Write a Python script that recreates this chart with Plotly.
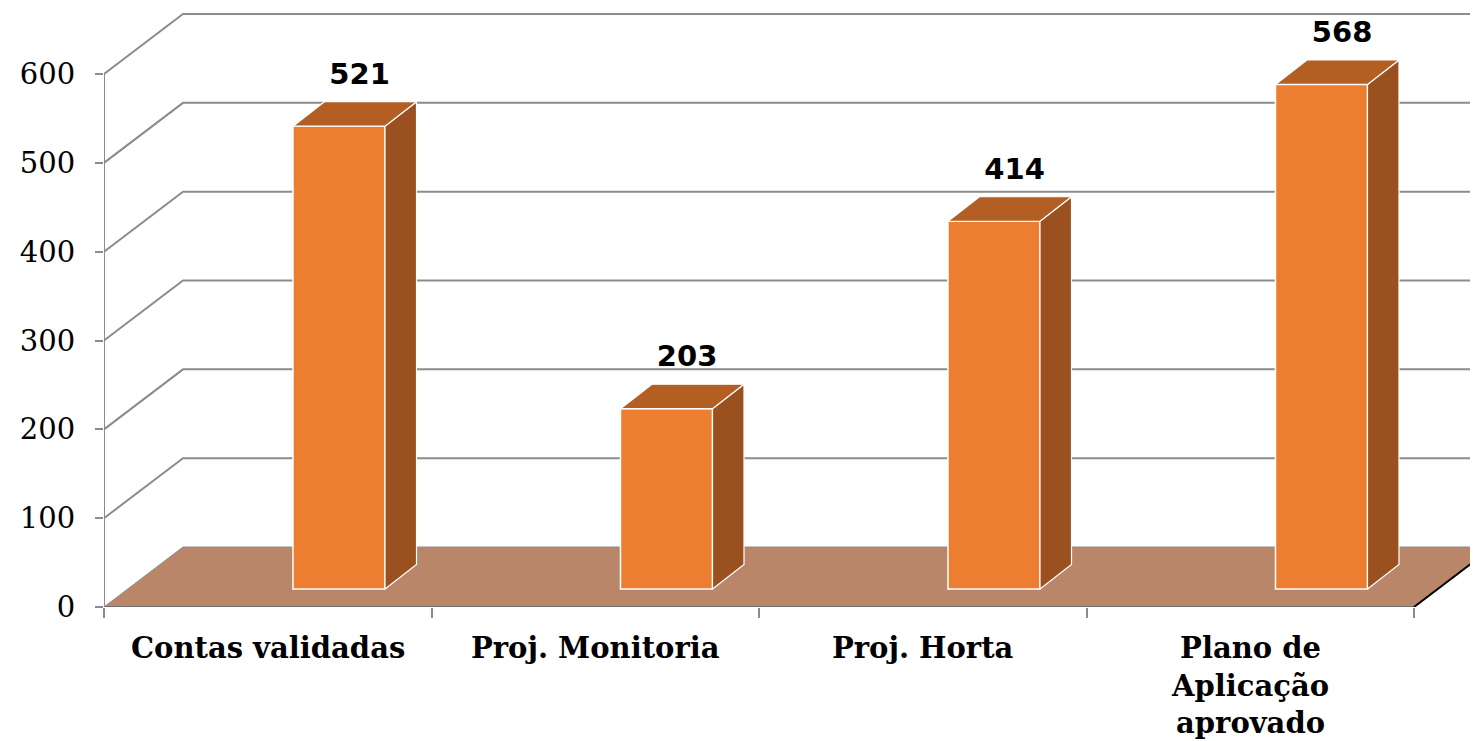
import plotly.graph_objects as go

categories = ["Contas validadas", "Proj. Monitoria", "Proj. Horta", "Plano de<br>Aplicação<br>aprovado"]
values = [521, 203, 414, 568]
y_ticks = [0, 100, 200, 300, 400, 500, 600]

# fake 3D geometry, in axis units (1 category = 327.5 px, 100 units = 88.83 px)
PX_X = 327.5
PX_Y = 0.8883
WALL_DX = 79 / PX_X
WALL_DY = 60 / PX_Y
BAR_BASE = 18 / PX_Y
BAR_DX = 31.5 / PX_X
BAR_DY = 24.5 / PX_Y
BAR_LEFT = 0.077
BAR_W = 0.281

# page body has an 8px margin, so the figure is shrunk by that much
FIG_W, FIG_H = 1470, 733
M_L, M_B = 96, 134
X_MAX = -0.5 + (FIG_W - M_L) / PX_X
Y_MAX = (FIG_H - M_B) / PX_Y

GRID = "#8c8c8c"
FRONT = "#ED7D31"
TOP = "#B35F24"
SIDE = "#9A501F"
FLOOR = "#B9866A"

fig = go.Figure()

shapes = []
# back wall gridlines
for v in y_ticks[1:]:
    shapes.append(dict(
        type="path", layer="below", xref="x", yref="y",
        path=f"M -0.5 {v} L {-0.5 + WALL_DX} {v + WALL_DY} L {X_MAX + 1} {v + WALL_DY}",
        line=dict(color=GRID, width=2),
    ))
# floor
shapes.append(dict(
    type="path", layer="below", xref="x", yref="y",
    path=f"M -0.5 0 L {-0.5 + WALL_DX} {WALL_DY} L {3.5 + WALL_DX} {WALL_DY} L 3.5 0 Z",
    fillcolor=FLOOR, line=dict(color=GRID, width=1),
))
shapes.append(dict(type="line", layer="below", xref="x", yref="y",
                   x0=-0.5, y0=0, x1=3.5, y1=0, line=dict(color="#6e6e6e", width=2)))
shapes.append(dict(type="line", layer="below", xref="x", yref="y",
                   x0=3.5, y0=0, x1=3.5 + WALL_DX, y1=WALL_DY, line=dict(color="black", width=2)))
# y axis line
shapes.append(dict(type="line", layer="below", xref="x", yref="y",
                   x0=-0.5, y0=0, x1=-0.5, y1=600, line=dict(color=GRID, width=2)))

# front faces
x_front = [i + BAR_LEFT + BAR_W / 2 for i in range(len(values))]
fig.add_trace(go.Bar(
    x=x_front, y=values, base=BAR_BASE, width=BAR_W,
    marker=dict(color=FRONT, line=dict(color="white", width=1.5)),
    hoverinfo="skip", showlegend=False,
))

# top and side faces
for i, v in enumerate(values):
    xl = i + BAR_LEFT
    xr = xl + BAR_W
    y0 = BAR_BASE
    y1 = BAR_BASE + v
    fig.add_trace(go.Scatter(
        x=[xr, xr + BAR_DX, xr + BAR_DX, xr, xr],
        y=[y0, y0 + BAR_DY, y1 + BAR_DY, y1, y0],
        fill="toself", fillcolor=SIDE, mode="lines",
        line=dict(color="white", width=1.2), hoverinfo="skip", showlegend=False,
    ))
    fig.add_trace(go.Scatter(
        x=[xl, xl + BAR_DX, xr + BAR_DX, xr, xl],
        y=[y1, y1 + BAR_DY, y1 + BAR_DY, y1, y1],
        fill="toself", fillcolor=TOP, mode="lines",
        line=dict(color="white", width=1.2), hoverinfo="skip", showlegend=False,
    ))

# value labels
fig.add_trace(go.Scatter(
    x=[i + BAR_LEFT + (BAR_W + BAR_DX) / 2 + 0.015 for i in range(len(values))],
    y=[BAR_BASE + v + BAR_DY + 25 / PX_Y for v in values],
    text=[str(v) for v in values], mode="text", textposition="middle center",
    textfont=dict(family="DejaVu Sans", size=29, color="black", weight="bold"),
    hoverinfo="skip", showlegend=False,
))

for i, c in enumerate(categories):
    fig.add_annotation(
        x=i, y=0, xref="x", yref="y", text=f"<b>{c}</b>", showarrow=False,
        yanchor="top", yshift=-22,
        font=dict(family="DejaVu Serif", size=29, color="black"),
    )

fig.update_layout(
    width=FIG_W, height=FIG_H,
    margin=dict(l=M_L, r=0, t=0, b=M_B),
    plot_bgcolor="white", paper_bgcolor="white",
    shapes=shapes,
    xaxis=dict(
        range=[-0.5, X_MAX], showgrid=False, zeroline=False, showline=False,
        tickvals=[-0.5, 0.5, 1.5, 2.5, 3.5], ticktext=[""] * 5,
        ticks="outside", ticklen=10, tickcolor=GRID, tickwidth=2,
    ),
    yaxis=dict(
        range=[0, Y_MAX], showgrid=False, zeroline=False, showline=False,
        tickvals=y_ticks, ticks="outside", ticklen=8, tickcolor=GRID, tickwidth=2,
        ticklabelstandoff=14,
        tickfont=dict(family="DejaVu Serif", size=29, color="black"),
    ),
)

fig.write_html("out.html")
